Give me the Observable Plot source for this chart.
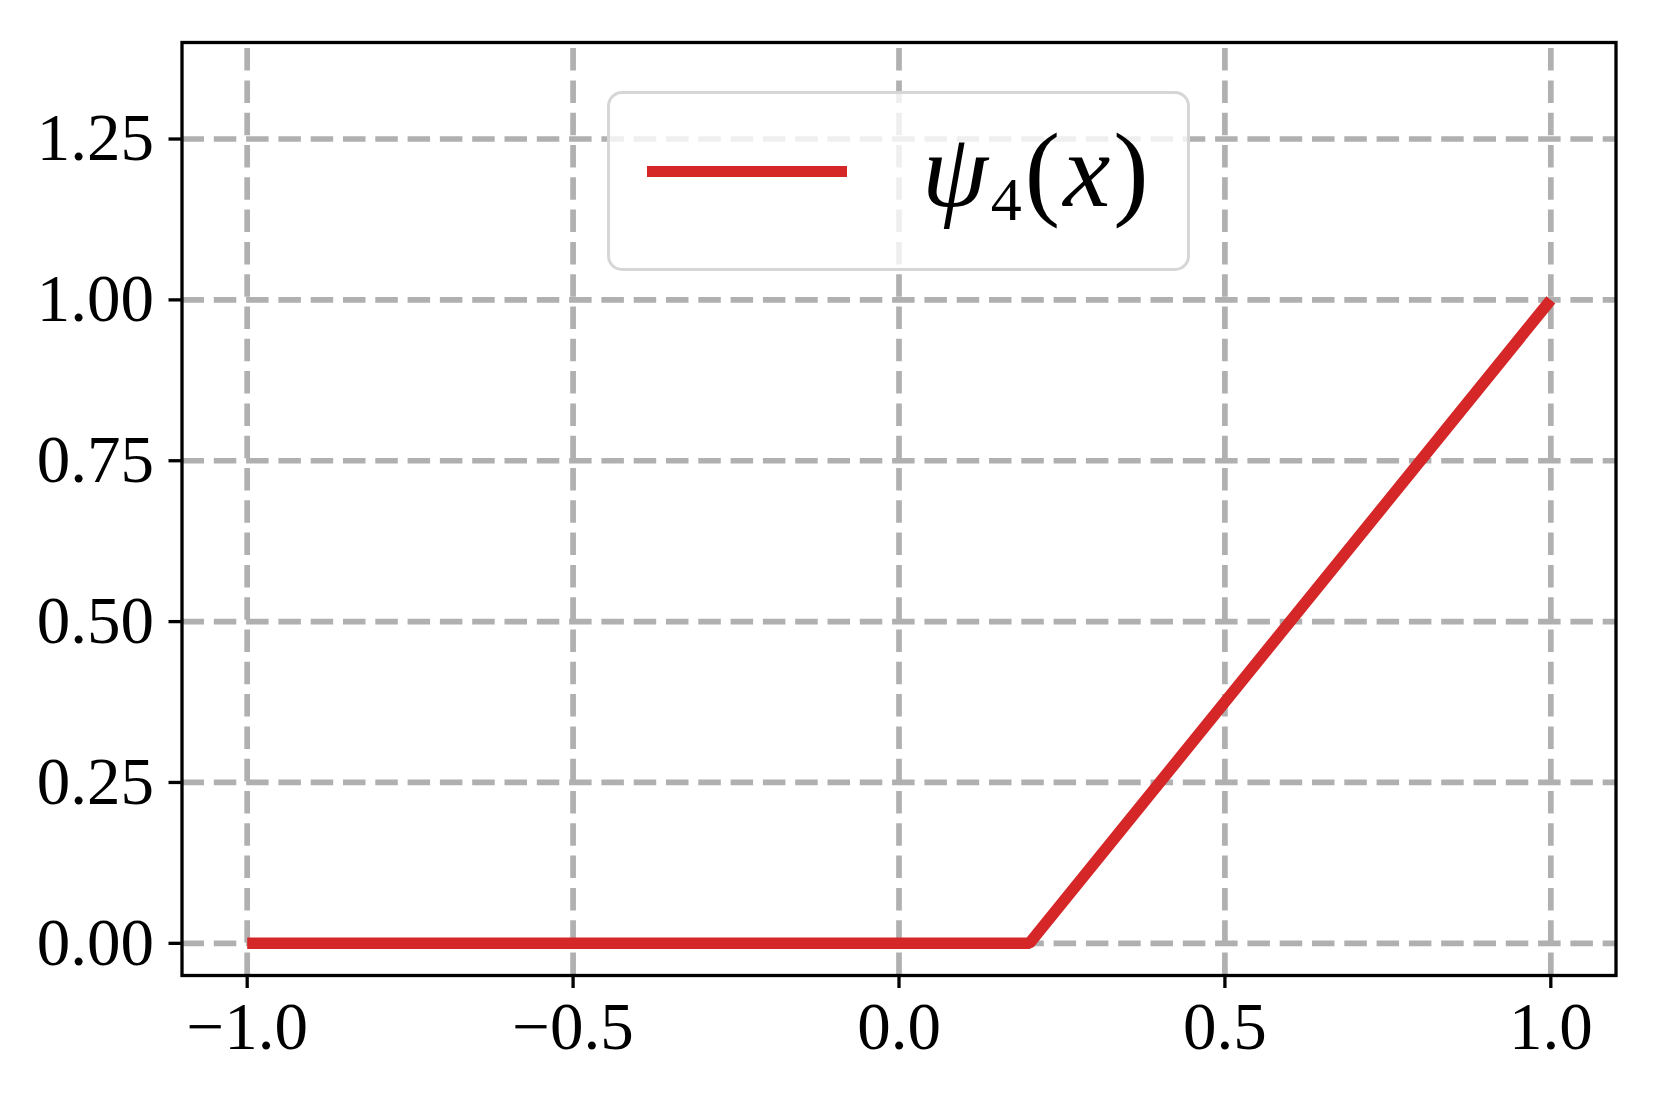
<!DOCTYPE html>
<html>
<head>
<meta charset="utf-8">
<script src="https://cdn.jsdelivr.net/npm/d3@7"></script>
<script src="https://cdn.jsdelivr.net/npm/@observablehq/plot@0.6"></script>
<style>
  html, body { margin: 0; padding: 0; background: #fff; }
  #wrap { position: relative; width: 1657px; height: 1105px; }
  #legend {
    position: absolute; left: 607px; top: 91px; width: 583px; height: 180px; box-sizing: border-box;
    border: 3px solid #d6d6d6; border-radius: 15px; background: rgba(255,255,255,0.8);
  }
  #legend .swatch { position: absolute; left: 37px; top: 71.5px; width: 200px; height: 11.7px; background: #d62728; }
  #legend .label { position: absolute; left: 312px; top: 0px; width: 260px; height: 174px; }
</style>
</head>
<body>
<div id="wrap"></div>
<script>
const xValues = [-1, 0.2, 1];
const psiValues = [0, 0, 1];
const xTicks = [-1, -0.5, 0, 0.5, 1];
const xTickLabels = ["−1.0", "−0.5", "0.0", "0.5", "1.0"];
const yTicks = [0, 0.25, 0.5, 0.75, 1, 1.25];
const yTickLabels = ["0.00", "0.25", "0.50", "0.75", "1.00", "1.25"];
const xDomain = [-1.1, 1.1];
const yDomain = [-0.05, 1.4];

const points = xValues.map((x, i) => ({x, y: psiValues[i]}));
const grid = {stroke: "#b0b0b0", strokeOpacity: 1, strokeWidth: 5.7, strokeDasharray: "22.5,9.8"};

const chart = Plot.plot({
  width: 1657,
  height: 1105,
  marginLeft: 181.5,
  marginRight: 41.5,
  marginTop: 42,
  marginBottom: 130,
  style: {fontFamily: "'Liberation Serif', serif", fontSize: "67px", color: "#000", background: "#fff"},
  x: {domain: xDomain},
  y: {domain: yDomain},
  marks: [
    Plot.ruleX(xTicks, {x: d => d, y1: yDomain[0], y2: yDomain[1], ...grid}),
    Plot.ruleY(yTicks, {y: d => d, x1: xDomain[0], x2: xDomain[1], ...grid}),
    Plot.line(points, {x: "x", y: "y", stroke: "#d62728", strokeWidth: 11.5, strokeLinecap: "butt", strokeLinejoin: "miter"}),
    Plot.frame({stroke: "#000", strokeWidth: 3.3}),
    Plot.axisX(xTicks, {tickSize: 13, tickPadding: 13, strokeWidth: 3.3, stroke: "#000", fill: "#000",
      tickFormat: (d, i) => xTickLabels[i], label: null}),
    Plot.axisY(yTicks, {tickSize: 13, tickPadding: 15, strokeWidth: 3.3, stroke: "#000", fill: "#000",
      tickFormat: (d, i) => yTickLabels[i], label: null})
  ]
});

const wrap = document.getElementById("wrap");
wrap.appendChild(chart);

const legend = document.createElement("div");
legend.id = "legend";
legend.innerHTML = `<div class="swatch"></div>
  <div class="label"><svg width="260" height="174" style="overflow:visible">
    <text x="0" y="112" fill="#000" font-family="Liberation Serif, serif" font-size="106" letter-spacing="3"><tspan font-style="italic">ψ</tspan><tspan font-size="62" dy="14">4</tspan><tspan dy="-14">(</tspan><tspan font-style="italic">x</tspan><tspan>)</tspan></text>
  </svg></div>`;
wrap.appendChild(legend);
</script>
</body>
</html>
